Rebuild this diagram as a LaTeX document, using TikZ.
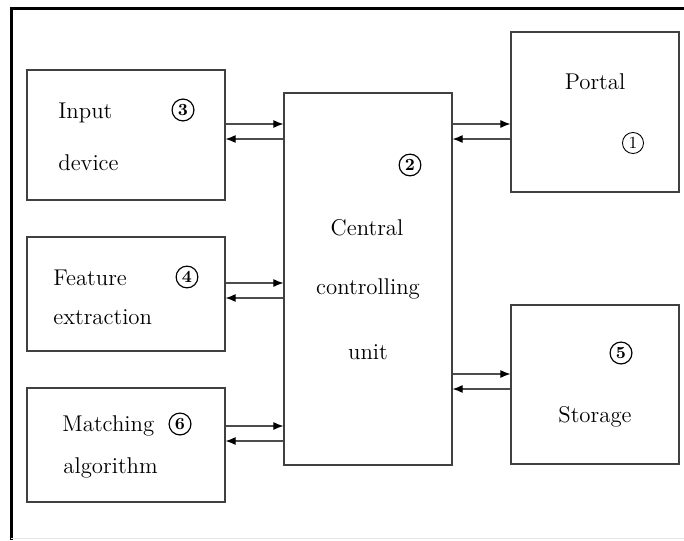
\documentclass[tikz,border=0pt]{standalone}
\usepackage{tikz}
\usetikzlibrary{positioning, arrows.meta, calc}

\begin{document}
\begin{tikzpicture}[
    x=0.5pt, y=-0.5pt,
    >=Latex,
    every node/.style={font=\fontsize{11.4}{13}\selectfont},
    block/.style={draw=black!75, line width=0.6pt, inner sep=0pt},
    txt/.style={anchor=west, inner sep=0pt},
    tag/.style={circle, draw, line width=0.6pt, inner sep=1.2pt, font=\fontsize{8.5}{9}\selectfont\bfseries},
    tag_thin/.style={tag, line width=0.45pt, font=\fontsize{8.5}{9}\selectfont},
    flow/.style={-{Latex[length=5pt, width=4pt, black]}, line width=0.55pt, draw=black!70},
    frame/.style={line width=1.5pt},
]
    \useasboundingbox (0,0) rectangle (684,540);

    % page frame
    \draw[frame] (11,540) -- (11,9) -- (684,9);
    \draw[black!10, line width=0.4pt] (11,538) -- (684,538);

    % 1. Left column
    \node[block, minimum width=99pt, minimum height=65pt] (input) at (126,135) {};
    \node[txt] (input_l1) at (58,113) {Input};
    \node[txt] (input_l2) at (58,163) {device};
    \node[tag] (tag3) at (183,110) {3};

    \node[block, minimum width=99pt, minimum height=57pt] (feature) at (126,294) {};
    \node[txt] (feature_l1) at (53,278) {Feature};
    \node[txt] (feature_l2) at (53,317) {extraction};
    \node[tag] (tag4) at (187,277) {4};

    \node[block, minimum width=99pt, minimum height=57pt] (matching) at (126,445) {};
    \node[txt] (matching_l1) at (62,426) {Matching};
    \node[txt] (matching_l2) at (63,468) {algorithm};
    \node[tag] (tag6) at (180,424) {6};

    % 2. Central controlling unit
    \node[block, minimum width=84pt, minimum height=186pt] (central) at (368,279) {};
    \node (central_l1) at (367,228) {Central};
    \node (central_l2) at (368,289) {controlling};
    \node (central_l3) at (368,352) {unit};
    \node[tag] (tag2) at (410,165) {2};

    % 3. Right column
    \node[block, minimum width=84pt, minimum height=80pt] (portal) at (595,112) {};
    \node (portal_l) at (595,82) {Portal};
    \node[tag_thin] (tag1) at (633,143) {1};

    \node[block, minimum width=84pt, minimum height=79.5pt] (storage) at (595,384.5) {};
    \node (storage_l) at (595,417) {Storage};
    \node[tag] (tag5) at (621,353) {5};

    % --- Connections ---

    % Input device <-> central
    \coordinate (in_to) at ([yshift=5.5pt]input.east);
    \coordinate (in_back) at ([yshift=-2pt]input.east);
    \draw[flow] (in_to) -- (in_to -| central.west);
    \draw[flow] (in_back -| central.west) -- (in_back);

    % Feature extraction <-> central
    \coordinate (fe_to) at ([yshift=5.5pt]feature.east);
    \coordinate (fe_back) at ([yshift=-2pt]feature.east);
    \draw[flow] (fe_to) -- (fe_to -| central.west);
    \draw[flow] (fe_back -| central.west) -- (fe_back);

    % Matching algorithm <-> central
    \coordinate (ma_to) at ([yshift=9.5pt]matching.east);
    \coordinate (ma_back) at ([yshift=2pt]matching.east);
    \draw[flow] (ma_to) -- (ma_to -| central.west);
    \draw[flow] (ma_back -| central.west) -- (ma_back);

    % Central <-> portal
    \coordinate (po_to) at ([yshift=-6pt]portal.west);
    \coordinate (po_back) at ([yshift=-13.5pt]portal.west);
    \draw[flow] (po_to -| central.east) -- (po_to);
    \draw[flow] (po_back) -- (po_back -| central.east);

    % Central <-> storage
    \coordinate (st_to) at ([yshift=5.25pt]storage.west);
    \coordinate (st_back) at ([yshift=-2.25pt]storage.west);
    \draw[flow] (st_to -| central.east) -- (st_to);
    \draw[flow] (st_back) -- (st_back -| central.east);

\end{tikzpicture}
\end{document}
